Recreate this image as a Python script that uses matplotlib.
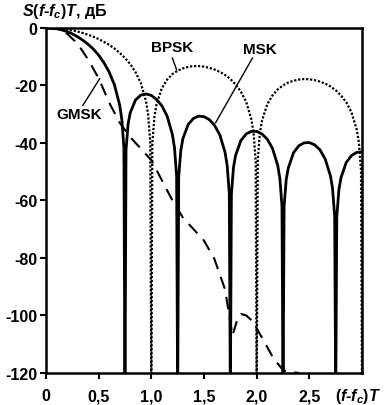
import matplotlib
matplotlib.use("Agg")
from matplotlib import pyplot as plt

# spectra (f-fc)T vs dB, -130 = null below the axis
msk_f = [0, 0.05, 0.1, 0.15, 0.2, 0.25, 0.3, 0.35, 0.4, 0.45, 0.5, 0.55, 0.6, 0.65, 0.7, 0.72, 0.74, 0.75,
         0.76, 0.78, 0.8, 0.85, 0.9, 0.95, 1.0, 1.05, 1.1, 1.15, 1.2, 1.22, 1.24, 1.25,
         1.26, 1.28, 1.3, 1.35, 1.4, 1.45, 1.5, 1.55, 1.6, 1.65, 1.7, 1.72, 1.74, 1.75,
         1.76, 1.78, 1.8, 1.85, 1.9, 1.95, 2.0, 2.05, 2.1, 2.15, 2.2, 2.22, 2.24, 2.25,
         2.26, 2.28, 2.3, 2.35, 2.4, 2.45, 2.5, 2.55, 2.6, 2.65, 2.7, 2.72, 2.74, 2.75,
         2.76, 2.78, 2.8, 2.85, 2.9, 2.95, 3.0]
msk_db = [0, -0.1, -0.3, -0.7, -1.3, -2.1, -3.1, -4.3, -5.7, -7.4, -9.5, -12.1, -15.4, -19.8, -26.9, -31.8, -41.8, -130,
          -42.4, -33.4, -29.5, -25.1, -23.4, -23.0, -23.5, -24.9, -27.1, -30.7, -37.1, -41.7, -51.5, -130,
          -51.8, -42.6, -38.5, -33.6, -31.5, -30.7, -30.9, -31.9, -33.9, -37.2, -43.3, -47.9, -57.6, -130,
          -57.8, -48.5, -44.3, -39.2, -36.9, -36.0, -36.0, -36.9, -38.7, -41.9, -47.9, -52.4, -62.0, -130,
          -62.2, -52.8, -48.7, -43.4, -41.0, -40.0, -39.9, -40.7, -42.4, -45.6, -51.5, -55.9, -65.6, -130,
          -65.7, -56.3, -52.1, -46.8, -44.4, -43.3, -43.1]

bpsk_f = [0, 0.05, 0.1, 0.15, 0.2, 0.25, 0.3, 0.35, 0.4, 0.45, 0.5, 0.55, 0.6, 0.65, 0.7, 0.75, 0.8, 0.85,
          0.9, 0.95, 0.97, 0.99, 1.0, 1.01, 1.03, 1.05, 1.1, 1.15, 1.2, 1.25, 1.3, 1.35, 1.4, 1.45, 1.5,
          1.55, 1.6, 1.65, 1.7, 1.75, 1.8, 1.85, 1.9, 1.95, 1.97, 1.99, 2.0, 2.01, 2.03, 2.05, 2.1, 2.15,
          2.2, 2.25, 2.3, 2.35, 2.4, 2.45, 2.5, 2.55, 2.6, 2.65, 2.7, 2.75, 2.8, 2.85, 2.9, 2.95, 2.97,
          2.99, 3.0]
bpsk_db = [0, -0.04, -0.14, -0.32, -0.58, -0.91, -1.3, -1.8, -2.4, -3.1, -3.9, -4.9, -5.9, -7.2, -8.7, -10.5, -12.6, -15.4,
           -19.2, -25.6, -30.2, -39.9, -130, -40.1, -30.7, -26.5, -21.0, -18.0, -16.1, -14.9, -14.1, -13.6, -13.3, -13.3, -13.5,
           -13.9, -14.5, -15.3, -16.4, -17.8, -19.7, -22.2, -25.7, -31.9, -36.4, -46.0, -130, -46.1, -36.6, -32.3, -26.6, -23.5,
           -21.4, -20.0, -19.0, -18.4, -18.0, -17.8, -17.9, -18.2, -18.7, -19.4, -20.4, -21.7, -23.5, -25.9, -29.4, -35.5, -39.9,
           -49.5, -130]

gmsk_f = [0, 0.1, 0.2, 0.3, 0.4, 0.5, 0.6, 0.7, 0.8, 0.9, 1.0, 1.1, 1.2, 1.3, 1.4, 1.5, 1.6, 1.7,
          1.77, 1.82, 1.85, 1.9, 1.96, 2.07, 2.16, 2.25, 2.3, 2.4]
gmsk_db = [0, -0.3, -2, -5.5, -11, -17.5, -26, -33, -38, -42, -46, -53, -60, -66, -70, -74, -80.5, -91,
           -107, -101, -99.5, -100, -102, -109, -115, -119, -119.6, -120]

yticks = [0, -20, -40, -60, -80, -100, -120]
xticks = [0, 0.5, 1.0, 1.5, 2.0, 2.5]
xticklabels = ["0", "0,5", "1,0", "1,5", "2,0", "2,5"]

plt.rcParams['font.family'] = ['Liberation Sans', 'DejaVu Sans']
plt.rcParams['font.weight'] = 'bold'
plt.rcParams['mathtext.fontset'] = 'custom'
plt.rcParams['mathtext.it'] = 'Liberation Sans:italic:bold'
plt.rcParams['mathtext.rm'] = 'Liberation Sans:bold'

fig = plt.figure(figsize=(3.86, 4.06), dpi=100)
ax = fig.add_axes([0.119, 0.079, 0.819, 0.850])

ax.plot(bpsk_f, bpsk_db, color='black', lw=1.6, linestyle=(0, (1, 0.8)))
ax.plot(gmsk_f, gmsk_db, color='black', lw=1.5, linestyle=(0, (6, 4)))
ax.plot(msk_f, msk_db, color='black', lw=2.0)

ax.set_xlim(0, 3)
ax.set_ylim(-120, 0)
ax.set_yticks(yticks)
ax.set_yticklabels([str(v) for v in yticks])
ax.set_xticks(xticks)
ax.set_xticklabels(xticklabels)
ax.tick_params(axis='both', direction='out', length=4, width=1.5, labelsize=11.5)
ax.tick_params(axis='x', pad=7)
ax.tick_params(axis='y', pad=2)
for s in ax.spines.values():
    s.set_linewidth(1.8)

# labels
fig.text(0.057, 0.972, r"$S(f$-$f_c)T$, дБ", fontsize=11.5, ha='left', va='center')
ax.text(2.96, -124.6, r"$(f$-$f_c)T$", fontsize=11.5, ha='center', va='top', clip_on=False)

# pointers
ax.text(1.2, -6.8, "BPSK", fontsize=11, ha='center', va='center')
ax.plot([1.2, 1.24], [-10.5, -14.6], color='black', lw=1)
ax.text(2.03, -7.3, "MSK", fontsize=11, ha='center', va='center')
ax.plot([1.96, 1.61], [-10.5, -33], color='black', lw=1)
ax.text(0.32, -30, "GMSK", fontsize=11, ha='center', va='center')
ax.plot([0.35, 0.51], [-27, -17.7], color='black', lw=1)

plt.savefig("out.png", dpi=100)
